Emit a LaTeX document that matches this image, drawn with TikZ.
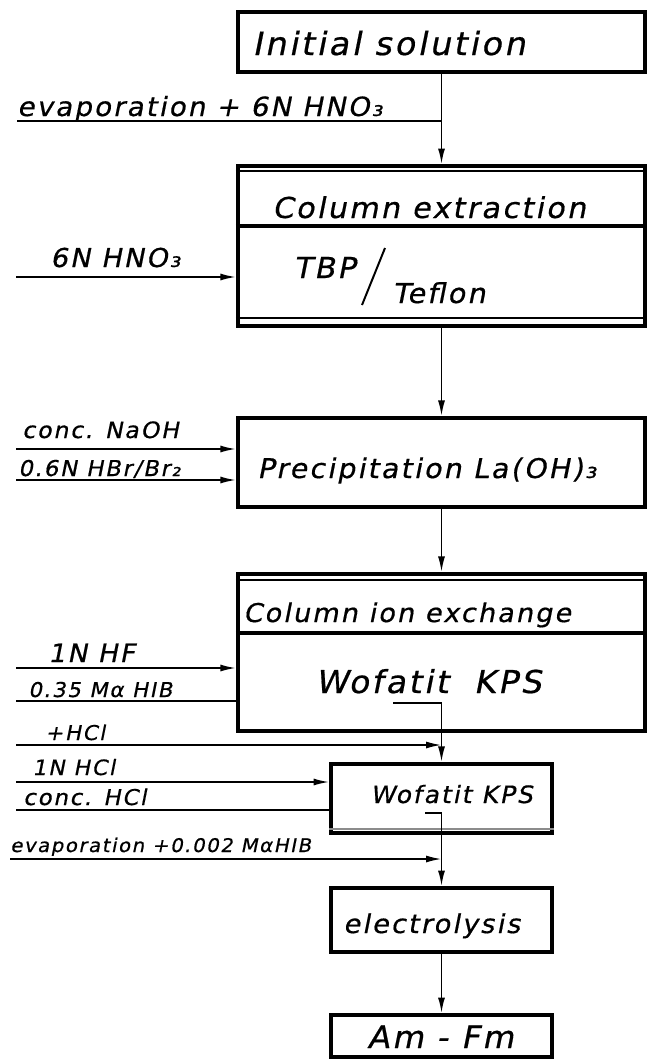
\documentclass[tikz,border=0pt]{standalone}
\usepackage{fontspec}
\usepackage{tikz}
\usetikzlibrary{arrows.meta, calc}
\newfontfamily\hand[FakeSlant=0.2,FakeStretch=1.05,LetterSpace=8,FakeBold=0.6]{DejaVu Sans}

\begin{document}
\begin{tikzpicture}[
    x=0.025cm, y=-0.025cm,
    stage/.style={draw, line width=2.8pt, inner sep=0pt},
    wide/.style={stage, minimum width=10.18cm},
    narrow/.style={stage, minimum width=5.52cm},
    lbl/.style={font=\hand\fontsize{#1}{#1}\selectfont, inner sep=0pt, anchor=base west},
    flow/.style={line width=1.2pt, -{Latex[length=11pt,width=5pt]}},
    feed/.style={line width=1.2pt},
]
    \useasboundingbox (0,0) rectangle (649,1059);

    \node[wide, minimum height=1.5cm] (init) at (441.5,42) {};
    \node[wide, minimum height=4cm] (colext) at (441.5,246) {};
    \node[wide, minimum height=2.23cm] (precip) at (441.5,462.5) {};
    \node[wide, minimum height=3.93cm] (ionex) at (441.5,652.5) {};
    \node[narrow, minimum height=1.73cm] (wofkps) at (441.5,798.5) {};
    \node[narrow, minimum height=1.6cm] (elec) at (441.5,920) {};
    \node[narrow, minimum height=1.05cm] (amfm) at (441.5,1036) {};

    \draw[line width=1.6pt] ($(colext.north west)+(0,7)$) -- ($(colext.north east)+(0,7)$);
    \draw[line width=2.8pt] ($(colext.north west)+(0,62)$) -- ($(colext.north east)+(0,62)$);
    \draw[line width=1.6pt] ($(colext.south west)+(0,-10)$) -- ($(colext.south east)+(0,-10)$);
    \draw[line width=1.6pt] ($(ionex.north west)+(0,8)$) -- ($(ionex.north east)+(0,8)$);
    \draw[line width=2.8pt] ($(ionex.north west)+(0,61)$) -- ($(ionex.north east)+(0,61)$);
    \draw[line width=1.6pt, black!45] ($(wofkps.south west)+(0,-6)$) -- ($(wofkps.south east)+(0,-6)$);

    \node[lbl=22.8] (tinit) at (252,55) {Initial solution};
    \node[lbl=20.5] (tcolext) at (272,218) {Column extraction};
    \node[lbl=20.5] (ttbp) at (293,278) {TBP};
    \node[lbl=19.5] (tteflon) at (392,303) {Teflon};
    \coordinate (s1) at (362,305);
    \coordinate (s2) at (385,248);
    \draw[line width=1.4pt] (s1) -- (s2);
    \node[lbl=19.3] (tprecip) at (257,478) {Precipitation La(OH)₃};
    \node[lbl=18.4] (tionex) at (243,622) {Column ion exchange};
    \node[lbl=22.4] (twof1) at (315,693) {Wofatit\hspace{0.8em}KPS};
    \node[lbl=17] (twof2) at (370,803) {Wofatit KPS};
    \node[lbl=18.5] (telec) at (343,933) {electrolysis};
    \node[lbl=22] (tamfm) at (367,1048) {Am - Fm};

    \coordinate (k1) at (393,703);
    \coordinate (k2) at (425,813);
    \draw[flow] (init) -- (colext);
    \draw[flow] (colext) -- (precip);
    \draw[flow] (precip) -- (ionex);
    \draw[flow] (k1) -| (wofkps.north);
    \draw[flow] (k2) -| (elec.north);
    \draw[flow] (elec) -- (amfm);

    \coordinate (f1) at (17,121);
    \coordinate (f2) at (16,277);
    \coordinate (f3) at (16,449);
    \coordinate (f4) at (16,480);
    \coordinate (f5) at (16,668);
    \coordinate (f6) at (16,701);
    \coordinate (f7) at (16,745);
    \coordinate (f8) at (16,782);
    \coordinate (f9) at (16,810);
    \coordinate (f10) at (10,859);
    \draw[feed] (f1) -- (f1 -| init.south);
    \draw[flow] (f2) -- (f2 -| colext.west);
    \draw[flow] (f3) -- (f3 -| precip.west);
    \draw[flow] (f4) -- (f4 -| precip.west);
    \draw[flow] (f5) -- (f5 -| ionex.west);
    \draw[feed] (f6) -- (f6 -| ionex.west);
    \draw[flow] (f7) -- (f7 -| wofkps.north);
    \draw[flow] (f8) -- (f8 -| wofkps.west);
    \draw[feed] (f9) -- (f9 -| wofkps.west);
    \draw[flow] (f10) -- (f10 -| elec.north);

    \node[lbl=18.8] (lf1) at (17,116) {evaporation + 6N HNO₃};
    \node[lbl=18.5] (lf2) at (50,267) {6N HNO₃};
    \node[lbl=16] (lf3) at (22,438) {conc. NaOH};
    \node[lbl=15.5] (lf4) at (18,476) {0.6N HBr/Br₂};
    \node[lbl=18] (lf5) at (48,662) {1N HF};
    \node[lbl=14.5] (lf6) at (28,697) {0.35 Mα HIB};
    \node[lbl=14.5] (lf7) at (45,740) {+HCl};
    \node[lbl=15] (lf8) at (32,775) {1N HCl};
    \node[lbl=15.5] (lf9) at (23,805) {conc. HCl};
    \node[lbl=13.4] (lf10) at (10,852) {evaporation +0.002 MαHIB};
\end{tikzpicture}
\end{document}
